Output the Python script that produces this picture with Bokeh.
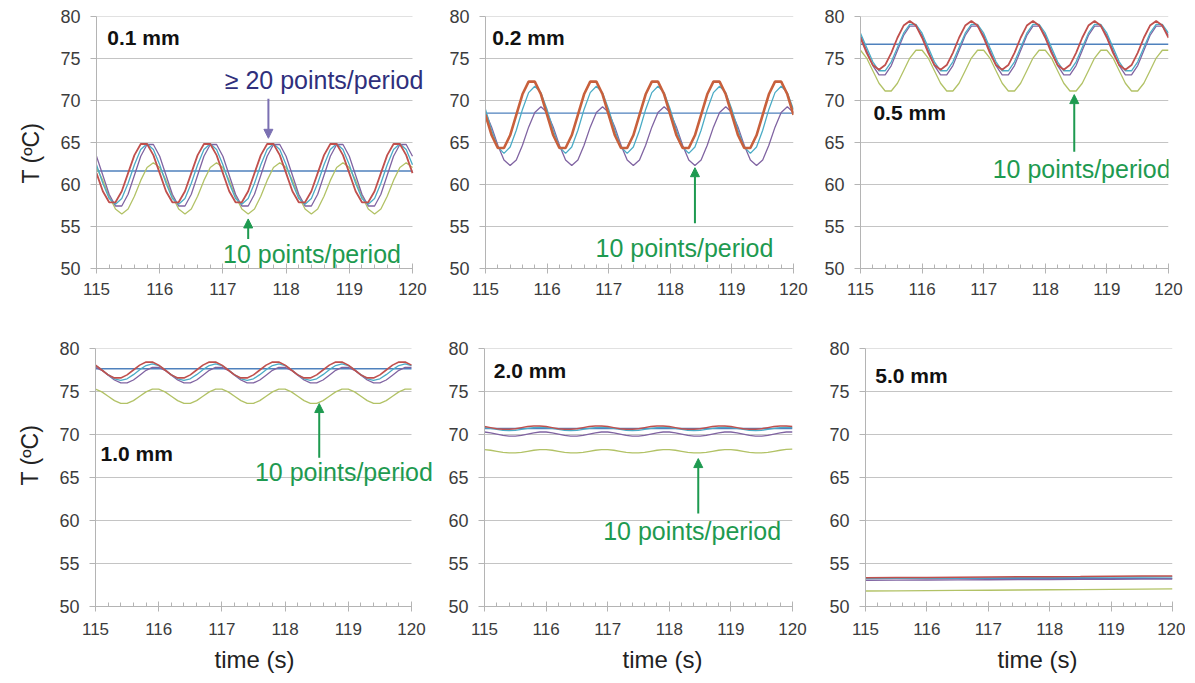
import math
from bokeh.plotting import figure
from bokeh.models import Range1d, FixedTicker, Label, Arrow, NormalHead, Title
from bokeh.layouts import column, row
from bokeh.embed import file_html
from bokeh.resources import INLINE

# ---------------- data ----------------
TIME = [round(115 + 0.1 * i, 1) for i in range(51)]
TIME6 = [115.0, 115.5, 116.0, 116.5, 117.0, 117.5, 118.0, 118.5, 119.0, 119.5, 120.0]
X_TICKS = [115, 116, 117, 118, 119, 120]
X_TICK_LABELS = ["115", "116", "117", "118", "119", "120"]
Y_TICKS = [50, 55, 60, 65, 70, 75, 80]

PANEL_NAMES = ["0.1 mm", "0.2 mm", "0.5 mm", "1.0 mm", "2.0 mm", "5.0 mm"]
MEAN_T = [61.6, 68.5, 76.7, 77.65, 70.7, 53.27]

P1_RED = [61.35, 59.20, 57.88, 57.88, 59.20, 61.35, 63.50, 64.82, 64.82, 63.50,
          61.35, 59.20, 57.88, 57.88, 59.20, 61.35, 63.50, 64.82, 64.82, 63.50,
          61.35, 59.20, 57.88, 57.88, 59.20, 61.35, 63.50, 64.82, 64.82, 63.50,
          61.35, 59.20, 57.88, 57.88, 59.20, 61.35, 63.50, 64.82, 64.82, 63.50,
          61.35, 59.20, 57.88, 57.88, 59.20, 61.35, 63.50, 64.82, 64.82, 63.50, 61.35]
P1_AQUA = [62.36, 60.14, 58.34, 57.65, 58.34, 60.14, 62.36, 64.16, 64.85, 64.16,
           62.36, 60.14, 58.34, 57.65, 58.34, 60.14, 62.36, 64.16, 64.85, 64.16,
           62.36, 60.14, 58.34, 57.65, 58.34, 60.14, 62.36, 64.16, 64.85, 64.16,
           62.36, 60.14, 58.34, 57.65, 58.34, 60.14, 62.36, 64.16, 64.85, 64.16,
           62.36, 60.14, 58.34, 57.65, 58.34, 60.14, 62.36, 64.16, 64.85, 64.16, 62.36]
P1_PURPLE = [63.36, 61.10, 58.84, 57.44, 57.44, 58.84, 61.10, 63.36, 64.76, 64.76,
             63.36, 61.10, 58.84, 57.44, 57.44, 58.84, 61.10, 63.36, 64.76, 64.76,
             63.36, 61.10, 58.84, 57.44, 57.44, 58.84, 61.10, 63.36, 64.76, 64.76,
             63.36, 61.10, 58.84, 57.44, 57.44, 58.84, 61.10, 63.36, 64.76, 64.76,
             63.36, 61.10, 58.84, 57.44, 57.44, 58.84, 61.10, 63.36, 64.76, 64.76, 63.36]
P1_GREEN = [62.02, 60.49, 58.61, 57.08, 56.50, 57.08, 58.61, 60.49, 62.02, 62.60,
            62.02, 60.49, 58.61, 57.08, 56.50, 57.08, 58.61, 60.49, 62.02, 62.60,
            62.02, 60.49, 58.61, 57.08, 56.50, 57.08, 58.61, 60.49, 62.02, 62.60,
            62.02, 60.49, 58.61, 57.08, 56.50, 57.08, 58.61, 60.49, 62.02, 62.60,
            62.02, 60.49, 58.61, 57.08, 56.50, 57.08, 58.61, 60.49, 62.02, 62.60, 62.02]

P2_RED = [68.30, 65.86, 64.35, 64.35, 65.86, 68.30, 70.74, 72.25, 72.25, 70.74,
          68.30, 65.86, 64.35, 64.35, 65.86, 68.30, 70.74, 72.25, 72.25, 70.74,
          68.30, 65.86, 64.35, 64.35, 65.86, 68.30, 70.74, 72.25, 72.25, 70.74,
          68.30, 65.86, 64.35, 64.35, 65.86, 68.30, 70.74, 72.25, 72.25, 70.74,
          68.30, 65.86, 64.35, 64.35, 65.86, 68.30, 70.74, 72.25, 72.25, 70.74, 68.30]
P2_AQUA = [68.94, 66.46, 64.46, 63.70, 64.46, 66.46, 68.94, 70.94, 71.70, 70.94,
           68.94, 66.46, 64.46, 63.70, 64.46, 66.46, 68.94, 70.94, 71.70, 70.94,
           68.94, 66.46, 64.46, 63.70, 64.46, 66.46, 68.94, 70.94, 71.70, 70.94,
           68.94, 66.46, 64.46, 63.70, 64.46, 66.46, 68.94, 70.94, 71.70, 70.94,
           68.94, 66.46, 64.46, 63.70, 64.46, 66.46, 68.94, 70.94, 71.70, 70.94, 68.94]
P2_PURPLE = [68.58, 66.83, 64.67, 62.92, 62.25, 62.92, 64.67, 66.83, 68.58, 69.25,
             68.58, 66.83, 64.67, 62.92, 62.25, 62.92, 64.67, 66.83, 68.58, 69.25,
             68.58, 66.83, 64.67, 62.92, 62.25, 62.92, 64.67, 66.83, 68.58, 69.25,
             68.58, 66.83, 64.67, 62.92, 62.25, 62.92, 64.67, 66.83, 68.58, 69.25,
             68.58, 66.83, 64.67, 62.92, 62.25, 62.92, 64.67, 66.83, 68.58, 69.25, 68.58]

P3_RED = [77.47, 75.67, 74.22, 73.67, 74.22, 75.67, 77.47, 78.92, 79.47, 78.92,
          77.47, 75.67, 74.22, 73.67, 74.22, 75.67, 77.47, 78.92, 79.47, 78.92,
          77.47, 75.67, 74.22, 73.67, 74.22, 75.67, 77.47, 78.92, 79.47, 78.92,
          77.47, 75.67, 74.22, 73.67, 74.22, 75.67, 77.47, 78.92, 79.47, 78.92,
          77.47, 75.67, 74.22, 73.67, 74.22, 75.67, 77.47, 78.92, 79.47, 78.92, 77.47]
P3_AQUA = [78.01, 76.30, 74.60, 73.54, 73.54, 74.60, 76.30, 78.01, 79.06, 79.06,
           78.01, 76.30, 74.60, 73.54, 73.54, 74.60, 76.30, 78.01, 79.06, 79.06,
           78.01, 76.30, 74.60, 73.54, 73.54, 74.60, 76.30, 78.01, 79.06, 79.06,
           78.01, 76.30, 74.60, 73.54, 73.54, 74.60, 76.30, 78.01, 79.06, 79.06,
           78.01, 76.30, 74.60, 73.54, 73.54, 74.60, 76.30, 78.01, 79.06, 79.06, 78.01]
P3_PURPLE = [77.74, 75.95, 74.16, 73.05, 73.05, 74.16, 75.95, 77.74, 78.85, 78.85,
             77.74, 75.95, 74.16, 73.05, 73.05, 74.16, 75.95, 77.74, 78.85, 78.85,
             77.74, 75.95, 74.16, 73.05, 73.05, 74.16, 75.95, 77.74, 78.85, 78.85,
             77.74, 75.95, 74.16, 73.05, 73.05, 74.16, 75.95, 77.74, 78.85, 78.85,
             77.74, 75.95, 74.16, 73.05, 73.05, 74.16, 75.95, 77.74, 78.85, 78.85, 77.74]
P3_GREEN = [75.98, 75.05, 73.55, 72.05, 71.13, 71.13, 72.05, 73.55, 75.05, 75.98,
            75.98, 75.05, 73.55, 72.05, 71.13, 71.13, 72.05, 73.55, 75.05, 75.98,
            75.98, 75.05, 73.55, 72.05, 71.13, 71.13, 72.05, 73.55, 75.05, 75.98,
            75.98, 75.05, 73.55, 72.05, 71.13, 71.13, 72.05, 73.55, 75.05, 75.98,
            75.98, 75.05, 73.55, 72.05, 71.13, 71.13, 72.05, 73.55, 75.05, 75.98, 75.98]

P4_RED = [78.07, 77.50, 76.93, 76.58, 76.58, 76.93, 77.50, 78.07, 78.42, 78.42,
          78.07, 77.50, 76.93, 76.58, 76.58, 76.93, 77.50, 78.07, 78.42, 78.42,
          78.07, 77.50, 76.93, 76.58, 76.58, 76.93, 77.50, 78.07, 78.42, 78.42,
          78.07, 77.50, 76.93, 76.58, 76.58, 76.93, 77.50, 78.07, 78.42, 78.42,
          78.07, 77.50, 76.93, 76.58, 76.58, 76.93, 77.50, 78.07, 78.42, 78.42, 78.07]
P4_AQUA = [78.02, 77.54, 76.96, 76.48, 76.30, 76.48, 76.96, 77.54, 78.02, 78.20,
           78.02, 77.54, 76.96, 76.48, 76.30, 76.48, 76.96, 77.54, 78.02, 78.20,
           78.02, 77.54, 76.96, 76.48, 76.30, 76.48, 76.96, 77.54, 78.02, 78.20,
           78.02, 77.54, 76.96, 76.48, 76.30, 76.48, 76.96, 77.54, 78.02, 78.20,
           78.02, 77.54, 76.96, 76.48, 76.30, 76.48, 76.96, 77.54, 78.02, 78.20, 78.02]
P4_PURPLE = [77.80, 77.46, 76.90, 76.34, 76.00, 76.00, 76.34, 76.90, 77.46, 77.80,
             77.80, 77.46, 76.90, 76.34, 76.00, 76.00, 76.34, 76.90, 77.46, 77.80,
             77.80, 77.46, 76.90, 76.34, 76.00, 76.00, 76.34, 76.90, 77.46, 77.80,
             77.80, 77.46, 76.90, 76.34, 76.00, 76.00, 76.34, 76.90, 77.46, 77.80,
             77.80, 77.46, 76.90, 76.34, 76.00, 76.00, 76.34, 76.90, 77.46, 77.80, 77.80]
P4_GREEN = [75.28, 74.96, 74.45, 73.94, 73.62, 73.62, 73.94, 74.45, 74.96, 75.28,
            75.28, 74.96, 74.45, 73.94, 73.62, 73.62, 73.94, 74.45, 74.96, 75.28,
            75.28, 74.96, 74.45, 73.94, 73.62, 73.62, 73.94, 74.45, 74.96, 75.28,
            75.28, 74.96, 74.45, 73.94, 73.62, 73.62, 73.94, 74.45, 74.96, 75.28,
            75.28, 74.96, 74.45, 73.94, 73.62, 73.62, 73.94, 74.45, 74.96, 75.28, 75.28]

P5_RED = [70.92, 70.80, 70.68, 70.61, 70.61, 70.68, 70.80, 70.92, 70.99, 70.99,
          70.92, 70.80, 70.68, 70.61, 70.61, 70.68, 70.80, 70.92, 70.99, 70.99,
          70.92, 70.80, 70.68, 70.61, 70.61, 70.68, 70.80, 70.92, 70.99, 70.99,
          70.92, 70.80, 70.68, 70.61, 70.61, 70.68, 70.80, 70.92, 70.99, 70.99,
          70.92, 70.80, 70.68, 70.61, 70.61, 70.68, 70.80, 70.92, 70.99, 70.99, 70.92]
P5_AQUA = [70.81, 70.71, 70.59, 70.49, 70.45, 70.49, 70.59, 70.71, 70.81, 70.85,
           70.81, 70.71, 70.59, 70.49, 70.45, 70.49, 70.59, 70.71, 70.81, 70.85,
           70.81, 70.71, 70.59, 70.49, 70.45, 70.49, 70.59, 70.71, 70.81, 70.85,
           70.81, 70.71, 70.59, 70.49, 70.45, 70.49, 70.59, 70.71, 70.81, 70.85,
           70.81, 70.71, 70.59, 70.49, 70.45, 70.49, 70.59, 70.71, 70.81, 70.85, 70.81]
P5_PURPLE = [70.29, 70.20, 70.05, 69.90, 69.81, 69.81, 69.90, 70.05, 70.20, 70.29,
             70.29, 70.20, 70.05, 69.90, 69.81, 69.81, 69.90, 70.05, 70.20, 70.29,
             70.29, 70.20, 70.05, 69.90, 69.81, 69.81, 69.90, 70.05, 70.20, 70.29,
             70.29, 70.20, 70.05, 69.90, 69.81, 69.81, 69.90, 70.05, 70.20, 70.29,
             70.29, 70.20, 70.05, 69.90, 69.81, 69.81, 69.90, 70.05, 70.20, 70.29, 70.29]
P5_GREEN = [68.24, 68.17, 68.05, 67.93, 67.86, 67.86, 67.93, 68.05, 68.17, 68.24,
            68.24, 68.17, 68.05, 67.93, 67.86, 67.86, 67.93, 68.05, 68.17, 68.24,
            68.24, 68.17, 68.05, 67.93, 67.86, 67.86, 67.93, 68.05, 68.17, 68.24,
            68.24, 68.17, 68.05, 67.93, 67.86, 67.86, 67.93, 68.05, 68.17, 68.24,
            68.24, 68.17, 68.05, 67.93, 67.86, 67.86, 67.93, 68.05, 68.17, 68.26, 68.30]

P6_RED = [53.35, 53.37, 53.38, 53.41, 53.43, 53.45, 53.47, 53.49, 53.52, 53.54, 53.55]
P6_AQUA = [53.25, 53.27, 53.28, 53.31, 53.33, 53.35, 53.37, 53.39, 53.41, 53.43, 53.45]
P6_PURPLE = [53.05, 53.06, 53.08, 53.09, 53.11, 53.12, 53.14, 53.15, 53.17, 53.18, 53.20]
P6_GREEN = [51.80, 51.82, 51.84, 51.87, 51.89, 51.92, 51.95, 51.97, 52.00, 52.02, 52.05]

# ---------------- styling ----------------
FONT = "Liberation Sans"
C_BLUE = "#4f81bd"
C_RED = "#c0504d"
C_GREEN = "#b2c266"
C_PURPLE = "#8064a2"
C_AQUA = "#4bacc6"
C_NOTE_GREEN = "#1e9a50"
C_NOTE_NAVY = "#2f2f7c"
C_ARROW_NAVY = "#7b70b2"
GRID = "#c4c4c4"
AXIS = "#b4b4b4"
TICK_TXT = "#3c3c3c"


def make_panel(frame_w, frame_h, bl, br, bt, bb, extra=0, xstand=9):
    # "extra" pixels of blank frame beyond x=120, so that notes may run past the axis end
    x_end = 120 + extra * 5.0 / frame_w
    p = figure(frame_width=frame_w + extra, frame_height=frame_h,
               min_border_left=bl, min_border_right=br,
               min_border_top=bt, min_border_bottom=bb,
               x_range=Range1d(115, x_end), y_range=Range1d(50, 80),
               output_backend="svg", toolbar_location=None,
               background_fill_color="white", border_fill_color="white")
    p.outline_line_color = None
    p.xgrid.visible = False
    p.ygrid.visible = False
    p.segment(x0=[115] * len(Y_TICKS), y0=Y_TICKS, x1=[120] * len(Y_TICKS), y1=Y_TICKS,
              line_color=GRID, line_width=1)
    p.xaxis.ticker = FixedTicker(ticks=X_TICKS,
                                 minor_ticks=[round(115 + 0.2 * i, 1) for i in range(26)])
    p.xaxis.major_label_overrides = {t: s for t, s in zip(X_TICKS, X_TICK_LABELS)}
    p.xaxis.bounds = (115, 120)
    p.yaxis.ticker = FixedTicker(ticks=Y_TICKS)
    for ax in (p.xaxis, p.yaxis):
        ax.axis_line_color = AXIS
        ax.major_tick_line_color = AXIS
        ax.minor_tick_line_color = AXIS
        ax.major_label_text_font = FONT
        ax.major_label_text_color = TICK_TXT
    p.xaxis.major_label_text_font_size = "17px"
    p.yaxis.major_label_text_font_size = "18px"
    p.xaxis.major_tick_in = 5
    p.xaxis.major_tick_out = 5
    p.xaxis.minor_tick_in = 4
    p.xaxis.minor_tick_out = 0
    p.xaxis.major_label_standoff = xstand
    p.yaxis.major_tick_in = 0
    p.yaxis.major_tick_out = 6
    p.yaxis.minor_tick_line_color = None
    p.yaxis.major_label_standoff = 10
    return p


def add_series(p, x, series, mean):
    p.line(x=[115, 120], y=[mean, mean], line_color=C_BLUE, line_width=1.4)
    for ys, col, w in series:
        p.line(x=x, y=ys, line_color=col, line_width=w)


def add_name(p, name, x, y):
    p.add_layout(Label(x=x, y=y, text=name, text_font=FONT, text_font_style="bold",
                       text_font_size="21px", text_color="#111111",
                       text_align="left", text_baseline="middle"))


def add_note(p, text, x, y, color):
    p.add_layout(Label(x=x, y=y, text=text, text_font=FONT, text_font_size="25px",
                       text_color=color, text_align="center", text_baseline="middle"))


def add_arrow(p, x, y0, y1, color):
    p.add_layout(Arrow(end=NormalHead(size=9, fill_color=color, line_color=color),
                       x_start=x, y_start=y0, x_end=x, y_end=y1,
                       line_color=color, line_width=2))


def add_ylabel(p, offset):
    p.add_layout(Title(text="T (ºC)", align="left", offset=offset, text_font=FONT,
                       text_font_size="23px", text_font_style="normal",
                       text_color="#222222", standoff=28), "left")


def add_xlabel(p, offset):
    p.add_layout(Title(text="time (s)", align="left", offset=offset, text_font=FONT,
                       text_font_size="24px", text_font_style="normal",
                       text_color="#222222", standoff=12), "below")


# panel 1 : 0.1 mm
p1 = make_panel(316, 252, 96, 0, 16, 40, extra=26)
add_series(p1, TIME, [(P1_GREEN, C_GREEN, 1.3), (P1_PURPLE, C_PURPLE, 1.3),
                      (P1_AQUA, C_AQUA, 1.3), (P1_RED, C_RED, 1.8)], MEAN_T[0])
add_name(p1, PANEL_NAMES[0], 115.17, 77.5)
add_note(p1, "≥ 20 points/period", 118.60, 72.5, C_NOTE_NAVY)
add_arrow(p1, 117.72, 70.2, 65.5, C_ARROW_NAVY)
add_note(p1, "10 points/period", 118.41, 51.7, C_NOTE_GREEN)
add_arrow(p1, 117.40, 53.5, 55.9, C_NOTE_GREEN)
add_ylabel(p1, 85)

# panel 2 : 0.2 mm
p2 = make_panel(308, 252, 47, 20, 16, 40)
add_series(p2, TIME, [(P2_PURPLE, C_PURPLE, 1.3), (P2_AQUA, C_AQUA, 1.3),
                      (P2_RED, "#c8603c", 2.6)], MEAN_T[1])
add_name(p2, PANEL_NAMES[1], 115.11, 77.5)
add_note(p2, "10 points/period", 118.23, 52.5, C_NOTE_GREEN)
add_arrow(p2, 118.40, 55.4, 62.0, C_NOTE_GREEN)

# panel 3 : 0.5 mm
p3 = make_panel(308, 252, 47, 15, 16, 40)
add_series(p3, TIME, [(P3_GREEN, C_GREEN, 1.3), (P3_PURPLE, C_PURPLE, 1.3),
                      (P3_AQUA, C_AQUA, 1.3), (P3_RED, C_RED, 1.8)], MEAN_T[2])
add_name(p3, PANEL_NAMES[2], 115.21, 68.6)
add_note(p3, "10 points/period", 118.59, 61.8, C_NOTE_GREEN)
add_arrow(p3, 118.47, 63.9, 70.7, C_NOTE_GREEN)

# panel 4 : 1.0 mm
p4 = make_panel(316, 258, 95, 0, 40, 75, extra=26, xstand=11)
add_series(p4, TIME, [(P4_GREEN, C_GREEN, 1.3), (P4_PURPLE, C_PURPLE, 1.3),
                      (P4_AQUA, C_AQUA, 1.3), (P4_RED, C_RED, 1.6)], MEAN_T[3])
add_name(p4, PANEL_NAMES[3], 115.08, 67.8)
add_note(p4, "10 points/period", 118.93, 65.6, C_NOTE_GREEN)
add_arrow(p4, 118.54, 67.3, 73.6, C_NOTE_GREEN)
add_ylabel(p4, 121)
add_xlabel(p4, 119)

# panel 5 : 2.0 mm
p5 = make_panel(308, 258, 47, 20, 40, 75, xstand=11)
add_series(p5, TIME, [(P5_GREEN, C_GREEN, 1.3), (P5_PURPLE, C_PURPLE, 1.3),
                      (P5_AQUA, C_AQUA, 1.3), (P5_RED, C_RED, 1.5)], MEAN_T[4])
add_name(p5, PANEL_NAMES[4], 115.15, 77.5)
add_note(p5, "10 points/period", 118.37, 58.8, C_NOTE_GREEN)
add_arrow(p5, 118.47, 60.8, 67.2, C_NOTE_GREEN)
add_xlabel(p5, 138)

# panel 6 : 5.0 mm
p6 = make_panel(307, 258, 53, 13, 40, 75, xstand=11)
add_series(p6, TIME6, [(P6_GREEN, C_GREEN, 1.3), (P6_PURPLE, C_PURPLE, 1.3),
                       (P6_AQUA, C_AQUA, 1.3), (P6_RED, C_RED, 1.5)], MEAN_T[5])
add_name(p6, PANEL_NAMES[5], 115.16, 76.9)
add_xlabel(p6, 132)

layout = column(row(p1, p2, p3, spacing=0), row(p4, p5, p6, spacing=0), spacing=0)

open("out.html", "w").write(file_html(layout, INLINE))
